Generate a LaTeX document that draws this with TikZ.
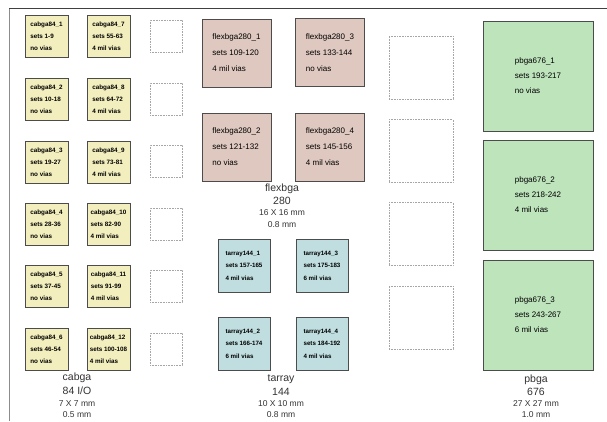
\documentclass[tikz,border=0pt]{standalone}
\usepackage{fontspec}
\setmainfont{Liberation Sans}
\begin{document}
\begin{tikzpicture}[x=1pt,y=-1pt,
  pkg/.style={draw=black!70,line width=0.8pt,align=left,inner sep=0pt,anchor=center},
  cab/.style={pkg,fill=cabfill,minimum width=43pt,minimum height=42pt,font=\fontsize{6.3}{12}\selectfont\bfseries},
  flx/.style={pkg,fill=flxfill,minimum width=69pt,minimum height=68pt,font=\fontsize{8}{16}\selectfont},
  tar/.style={pkg,fill=tarfill,minimum width=52pt,minimum height=53pt,font=\fontsize{6.2}{12.5}\selectfont\bfseries},
  pbg/.style={pkg,fill=pbgfill,minimum width=110pt,minimum height=110pt,font=\fontsize{8}{15}\selectfont},
  slot/.style={draw=black!35,densely dotted,line width=0.6pt,inner sep=0pt},
  big/.style={font=\fontsize{10.5}{12}\selectfont,text=black!80,inner sep=0pt},
  sml/.style={font=\fontsize{8.5}{10}\selectfont,text=black!80,inner sep=0pt}]
\definecolor{cabfill}{RGB}{242,238,190}
\definecolor{flxfill}{RGB}{222,200,192}
\definecolor{tarfill}{RGB}{192,222,224}
\definecolor{pbgfill}{RGB}{190,228,188}
\useasboundingbox (0,0) rectangle (607,421);
\fill[white] (0,0) rectangle (607,421);
% frame
\draw[black!45,line width=1pt] (9,421) -- (9,8);
\draw[black!75,line width=1pt] (9,8) -- (607,8);
% cabga
\node[cab] (c1) at (46.5,36) {cabga84\_1\\sets 1-9\\no vias};
\node[cab] (c2) at (46.5,99) {cabga84\_2\\sets 10-18\\no vias};
\node[cab] (c3) at (46.5,162) {cabga84\_3\\sets 19-27\\no vias};
\node[cab] (c4) at (46.5,224) {cabga84\_4\\sets 28-36\\no vias};
\node[cab] (c5) at (46.5,286) {cabga84\_5\\sets 37-45\\no vias};
\node[cab] (c6) at (46.5,349) {cabga84\_6\\sets 46-54\\no vias};
\node[cab] (c7) at (108.5,36) {cabga84\_7\\sets 55-63\\4 mil vias};
\node[cab] (c8) at (108.5,99) {cabga84\_8\\sets 64-72\\4 mil vias};
\node[cab] (c9) at (108.5,162) {cabga84\_9\\sets 73-81\\4 mil vias};
\node[cab] (c10) at (108.5,224) {cabga84\_10\\sets 82-90\\4 mil vias};
\node[cab] (c11) at (108.5,286) {cabga84\_11\\sets 91-99\\4 mil vias};
\node[cab] (c12) at (108.5,349) {cabga84\_12\\sets 100-108\\4 mil vias};
% small slots
\foreach \i/\y in {1/36,2/99,3/161,4/224,5/286,6/349}
  \node[slot,minimum width=32pt,minimum height=32pt] (s\i) at (166,\y) {};
% flexbga
\node[flx] (f1) at (236.5,53) {flexbga280\_1\\sets 109-120\\4 mil vias};
\node[flx] (f3) at (330,52.5) {flexbga280\_3\\sets 133-144\\no vias};
\node[flx] (f2) at (236.5,147) {flexbga280\_2\\sets 121-132\\no vias};
\node[flx] (f4) at (330,147) {flexbga280\_4\\sets 145-156\\4 mil vias};
% tarray
\node[tar] (t1) at (244,265.5) {tarray144\_1\\sets 157-165\\4 mil vias};
\node[tar] (t3) at (322,265.5) {tarray144\_3\\sets 175-183\\6 mil vias};
\node[tar] (t2) at (244,343.5) {tarray144\_2\\sets 166-174\\6 mil vias};
\node[tar] (t4) at (322,343.5) {tarray144\_4\\sets 184-192\\4 mil vias};
% large slots
\foreach \i/\y in {1/67.5,2/151,3/234,4/317.5}
  \node[slot,minimum width=64pt,minimum height=63pt] (m\i) at (421,\y) {};
% pbga
\node[pbg] (p1) at (538,76) {pbga676\_1\\sets 193-217\\no vias};
\node[pbg] (p2) at (538,195) {pbga676\_2\\sets 218-242\\4 mil vias};
\node[pbg] (p3) at (538,315) {pbga676\_3\\sets 243-267\\6 mil vias};
% labels
\node[big] (lc1) at (77,378) {cabga};
\node[big] (lc2) at (77,391) {84 I/O};
\node[sml] (lc3) at (77,403.5) {7 X 7 mm};
\node[sml] (lc4) at (77,415) {0.5 mm};
\node[big] (lf1) at (282,189) {flexbga};
\node[big] (lf2) at (282,201) {280};
\node[sml] (lf3) at (282,213) {16 X 16 mm};
\node[sml] (lf4) at (282,224.5) {0.8 mm};
\node[big] (lt1) at (281,379) {tarray};
\node[big] (lt2) at (281,391.5) {144};
\node[sml] (lt3) at (281,403.5) {10 X 10 mm};
\node[sml] (lt4) at (281,414.5) {0.8 mm};
\node[big] (lp1) at (536,380) {pbga};
\node[big] (lp2) at (536,392) {676};
\node[sml] (lp3) at (536,403.5) {27 X 27 mm};
\node[sml] (lp4) at (536,414.5) {1.0 mm};
\end{tikzpicture}
\end{document}
